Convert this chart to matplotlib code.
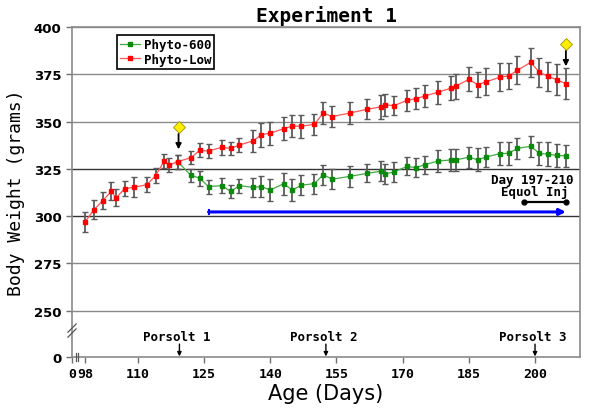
import matplotlib
matplotlib.use("Agg")
import matplotlib.pyplot as plt

days = [98,100,102,104,105,107,109,112,114,116,117,119,122,124,126,129,131,133,136,138,140,143,145,147,150,
        152,154,158,162,165,166,168,171,173,175,178,181,182,185,187,189,192,194,196,199,201,203,205,207]
low = [296.9,303.3,308.2,313.1,309.6,314.5,315.2,316.6,321.4,329.3,327.0,328.8,330.9,334.8,334.4,336.4,335.8,
       337.6,339.7,343.0,343.9,346.2,347.6,347.5,348.6,354.5,352.6,354.5,356.5,357.7,358.8,358.4,361.2,362.1,
       363.5,365.5,367.7,368.6,372.3,369.5,371.1,373.4,374.1,377.1,381.3,376.0,373.9,372.0,370.0]
low_err = [5.1,5.0,4.6,4.8,4.5,4.1,5.3,3.9,3.9,3.8,3.9,3.7,3.6,3.6,3.7,4.0,3.5,3.8,5.8,6.2,6.1,6.0,6.0,6.1,5.6,
           5.6,5.7,5.8,5.2,6.1,5.8,5.2,5.6,5.7,5.7,6.2,6.5,6.6,6.3,6.7,7.0,7.3,7.1,7.4,7.7,7.7,7.8,8.2,8.2]
days600 = days[11:]
p600 = [328.8,321.6,320.0,315.6,316.1,313.1,316.1,315.2,315.6,313.8,317.1,313.8,316.3,317.2,321.9,319.5,321.0,
        322.6,323.7,322.3,323.3,326.3,325.6,327.2,329.1,329.7,329.7,331.1,329.8,331.3,333.0,333.2,335.8,336.9,
        333.2,332.7,332.1,331.8]
p600_err = [3.7,3.5,3.9,3.7,3.8,3.5,3.7,5.0,5.5,5.6,5.7,5.6,5.3,5.3,5.3,5.2,5.4,4.7,5.3,5.3,5.3,4.8,5.0,4.8,
            5.6,5.6,5.6,5.6,6.0,5.1,6.0,6.0,5.6,5.7,6.2,6.3,6.1,5.9]

xticks = [95.05, 98, 110, 125, 140, 155, 170, 185, 200]
xticklabels = ["0", "98", "110", "125", "140", "155", "170", "185", "200"]
yticks = [225.5, 250, 275, 300, 325, 350, 375, 400]
yticklabels = ["0", "250", "275", "300", "325", "350", "375", "400"]

porsolt_days = [119.4, 152.6, 200.0]
porsolt_labels = ["Porsolt 1", "Porsolt 2", "Porsolt 3"]
diamond_days = [119.2, 207.0]
diamond_vals = [347.1, 391.0]
treat_start, treat_end, treat_val = 126.0, 207.0, 302.2
equol_start, equol_end, equol_val = 197.5, 207.0, 307.6

mono = "DejaVu Sans Mono"
fig = plt.figure(figsize=(6.0, 4.14), dpi=100)
ax = fig.add_axes([0.12, 0.1353, 0.8467, 0.7971])
ax.set_xlim(95.05, 210.2)
ax.set_ylim(225.5, 400)

for v in [250, 275, 300, 325, 350, 375, 400]:
    ax.axhline(v, color="#333333" if v in (300, 325) else "#8a8a8a", lw=1.0, zorder=1)

ax.errorbar(days, low, yerr=low_err, fmt="none", ecolor="#5a5a5a", elinewidth=1.3, capsize=2.5, capthick=1.0, zorder=2)
ax.errorbar(days600, p600, yerr=p600_err, fmt="none", ecolor="#5a5a5a", elinewidth=1.3, capsize=2.5, capthick=1.0, zorder=2)
ax.plot(days600, p600, color="#44aa44", lw=0.9, marker="s", ms=3.4, mfc="#0a8a0a", mec="#0a8a0a", zorder=3, label="Phyto-600")
ax.plot(days, low, color="#ff5555", lw=0.9, marker="s", ms=2.6, mfc="#ff0000", mec="#ff0000", zorder=4, label="Phyto-Low")

# treatment line (blue) and equol injection bar
ax.plot([treat_start, treat_start], [treat_val - 0.9, treat_val + 0.9], color="#0000ff", lw=1.5, zorder=5)
ax.annotate("", xy=(treat_end, treat_val), xytext=(treat_start, treat_val),
            arrowprops=dict(arrowstyle="-|>", color="#0000ff", lw=2.2, mutation_scale=9, shrinkA=0, shrinkB=0), zorder=5)
ax.plot([equol_start, equol_end], [equol_val, equol_val], color="black", lw=1.6, marker="o", ms=3.5, zorder=5)
ax.text(208.8, 319.1, "Day 197-210", ha="right", va="center", fontsize=9, family=mono, fontweight="bold")
ax.text(207.6, 312.8, "Equol Inj", ha="right", va="center", fontsize=9, family=mono, fontweight="bold")

for d, v in zip(diamond_days, diamond_vals):
    ax.plot([d], [v], marker="D", ms=6, mfc="#ffee00", mec="#a09000", mew=0.6, zorder=6)
    ax.annotate("", xy=(d, v - 11.8), xytext=(d, v - 3.7),
                arrowprops=dict(arrowstyle="-|>", color="black", lw=1.3, mutation_scale=8, shrinkA=0, shrinkB=0), zorder=6)

for d, lab in zip(porsolt_days, porsolt_labels):
    ax.text(d - 0.5, 236.4, lab, ha="center", va="center", fontsize=9, family=mono, fontweight="bold")
    ax.annotate("", xy=(d, 225.8), xytext=(d, 232.3),
                arrowprops=dict(arrowstyle="-|>", color="black", lw=1.0, mutation_scale=6, shrinkA=0, shrinkB=0))

ax.set_xticks(xticks)
ax.set_xticklabels(xticklabels, family=mono, fontweight="bold", fontsize=9.5)
ax.set_yticks(yticks)
ax.set_yticklabels(yticklabels, fontweight="bold", fontsize=9.5)
ax.tick_params(axis="both", colors="#707070", labelcolor="black", length=4, width=1)
for s in ax.spines.values():
    s.set_color("#8a8a8a")
    s.set_linewidth(1.2)

# axis break marks
kw = dict(transform=ax.transAxes, color="#555555", lw=0.9, clip_on=False, zorder=7)
ax.plot([-0.008, 0.008], [0.06, 0.085], **kw)
ax.plot([-0.008, 0.008], [0.075, 0.10], **kw)
ax.plot([0.0073, 0.0073], [-0.012, 0.012], **kw)
ax.plot([0.011, 0.011], [-0.012, 0.012], **kw)

ax.set_xlabel("Age (Days)", fontsize=15, labelpad=2)
ax.set_ylabel("Body Weight (grams)", fontsize=13, family=mono, labelpad=6)
ax.set_title("Experiment 1", fontsize=14, family=mono, fontweight="bold", pad=4)

leg = ax.legend(loc="upper left", bbox_to_anchor=(0.088, 0.975), prop={"family": mono, "weight": "bold", "size": 9},
                frameon=True, fancybox=False, edgecolor="black", framealpha=1, borderpad=0.25,
                handlelength=1.6, handletextpad=0.3, labelspacing=0.1, borderaxespad=0)
leg.get_frame().set_linewidth(1.2)

fig.savefig("out.png", dpi=100)
